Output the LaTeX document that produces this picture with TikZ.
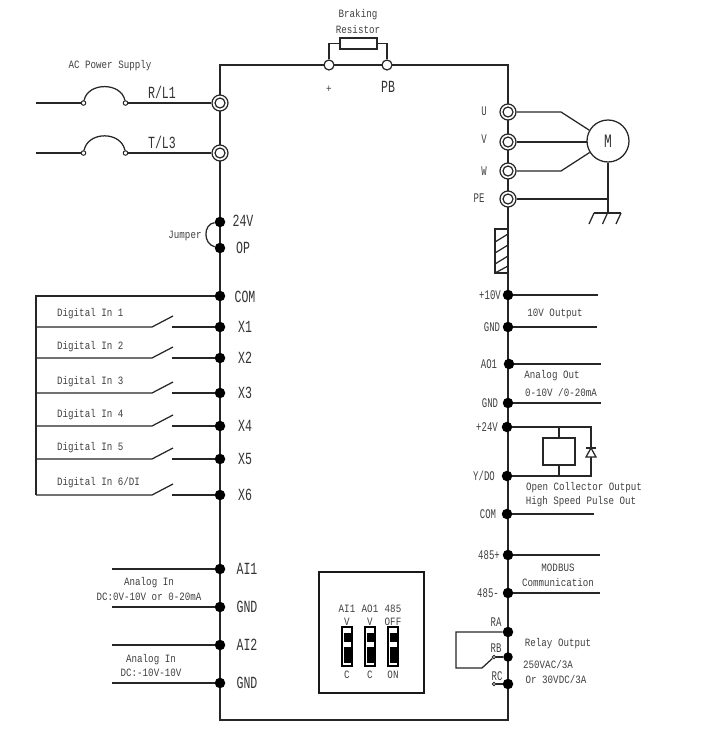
\documentclass[tikz,border=0pt]{standalone}
\usepackage{fontspec}
\setmainfont[FakeStretch=0.82]{Liberation Mono}
\newfontfamily\narrowfam[FakeStretch=0.68]{Liberation Mono}
\begin{document}
\begin{tikzpicture}[x=1pt,y=-1pt,
  wire/.style={line width=1.25pt,color=black!85,line join=miter},
  dot/.style={circle,fill=black,inner sep=0pt,minimum size=10.5pt},
  term/.style={circle,draw=black!85,line width=1.2pt,fill=white,inner sep=0pt,minimum size=16pt,path picture={\draw[black!85,line width=1.2pt] (path picture bounding box.center) circle (5pt);}},
  open/.style={circle,draw=black!85,line width=1.2pt,fill=white,inner sep=0pt,minimum size=10pt},
  tiny/.style={circle,draw=black!85,line width=1pt,fill=white,inner sep=0pt,minimum size=4.5pt},
  lbl/.style={inner sep=0pt,yshift=-1pt,color=black!75,font=\fontsize{11.2}{13}\selectfont},
  lbig/.style={inner sep=0pt,color=black!80,font=\narrowfam\fontsize{17}{19}\selectfont},
  lmid/.style={inner sep=0pt,color=black!75,font=\narrowfam\fontsize{13.2}{15}\selectfont}]
\useasboundingbox (0,0) rectangle (714,739);
\fill[white] (0,0) rectangle (714,739);
% corner coordinates
\coordinate (tl) at (220,65);
\coordinate (tr) at (508,65);
\coordinate (bl) at (220,720);
\coordinate (br) at (508,720);
\coordinate (busT) at (36,296);
\coordinate (busB) at (36,495);
% main frame
\draw[wire] (tl) -- (tr) -- (br) -- (bl) -- cycle;
% braking resistor
\node[open] (pp) at (329,65) {};
\node[open] (pb) at (387,65) {};
\node[draw=black!85,line width=1.25pt,minimum width=37pt,minimum height=11pt,inner sep=0pt] (res) at (358.5,43.5) {};
\draw[wire] (pp) |- (res.west);
\draw[wire] (pb) |- (res.east);
\node[lbl] (t1) at (358,14) {Braking};
\node[lbl] (t2) at (358,28) {Resistor};
\node[lbl] (t3) at (329,88) {+};
\node[lbig] (t4) at (388,87) {PB};
% mains
\node[term] (rl) at (220,103) {};
\node[term] (tl3) at (220,153) {};
\coordinate (rin) at (36,103);
\coordinate (tin) at (36,153);
\node[tiny] (f1a) at (83.5,103) {};
\node[tiny] (f1b) at (125.5,103) {};
\node[tiny] (f2a) at (83.5,153) {};
\node[tiny] (f2b) at (125.5,153) {};
\draw[wire] (rin) -- (f1a);
\draw[wire] (f1b) -- (rl);
\draw[wire] (tin) -- (f2a);
\draw[wire] (f2b) -- (tl3);
\draw[wire] (f1a) .. controls (88,82) and (121,82) .. (f1b);
\draw[wire] (f2a) .. controls (88,131) and (121,131) .. (f2b);
\node[lbl] (ac) at (110,65) {AC Power Supply};
\node[lbig] (n1) at (162,92) {R/L1};
\node[lbig] (n2) at (162,142) {T/L3};
% jumper
\node[dot] (v24) at (220,222) {};
\node[dot] (op) at (220,248) {};
\draw[wire] (v24) .. controls (203,224) and (203,244) .. (op);
\node[lbl] (j) at (185,235) {Jumper};
\node[lbig] (n3) at (243,221) {24V};
\node[lbig] (n4) at (243,248) {OP};
% digital inputs
\node[dot] (com) at (220,296) {};
\node[lbig] (c1) at (245,297) {COM};
\draw[wire] (com) -- (busT) -- (busB);
\foreach \nm/\yy/\tx/\ty in {X1/327/Digital In 1/313,X2/358/Digital In 2/346,X3/393/Digital In 3/381,X4/426/Digital In 4/414,X5/459/Digital In 5/447,X6/495/Digital In 6\slash DI/482}{
  \node[dot] (d\nm) at (220,\yy) {};
  \coordinate (a\nm) at (36,\yy);
  \coordinate (b\nm) at (152,\yy);
  \coordinate (e\nm) at (173,\yy-11);
  \coordinate (s\nm) at (172,\yy);
  \draw[wire] (a\nm) -- (b\nm) -- (e\nm);
  \draw[wire] (s\nm) -- (d\nm);
  \node[lbig] (l\nm) at (245,\yy) {\nm};
  \node[lbl,anchor=west] (t\nm) at (57,\ty) {\tx};
}
% analog in
\foreach \nm/\yy/\lab in {p/569/AI1,q/607/GND,r/645/AI2,s/683/GND}{
  \node[dot] (g\nm) at (220,\yy) {};
  \coordinate (h\nm) at (112,\yy);
  \draw[wire] (h\nm) -- (g\nm);
  \node[lbig] (m\nm) at (247,\yy) {\lab};
}
\node[lbl] (ai1) at (149,582) {Analog In};
\node[lbl] (ai2) at (149,596) {DC:0V-10V or 0-20mA};
\node[lbl] (ai3) at (151,659) {Analog In};
\node[lbl] (ai4) at (151,672) {DC:-10V-10V};
% dip box
\node[draw=black!90,line width=1.25pt,minimum width=105pt,minimum height=121pt,inner sep=0pt] (dip) at (371.5,632.5) {};
\foreach \nm/\xx/\a/\b/\c in {A/347/AI1/V/C,B/370/AO1/V/C,C/393/485/OFF/ON}{
  \node[draw=black,line width=1.1pt,minimum width=10pt,minimum height=39pt,inner sep=0pt] (sw\nm) at (\xx,646.5) {};
  \fill[black] (\xx-3.5,633) rectangle (\xx+3.5,642);
  \fill[black] (\xx-3.5,647) rectangle (\xx+3.5,663);
  \node[lbl] (sa\nm) at (\xx,608) {\a};
  \node[lbl] (sb\nm) at (\xx,621) {\b};
  \node[lbl] (sc\nm) at (\xx,674) {\c};
}
% motor
\node[term] (u) at (508,112) {};
\node[term] (v) at (508,142) {};
\node[term] (w) at (508,171) {};
\node[term] (pe) at (508,199) {};
\node[circle,draw=black!85,line width=1.25pt,minimum size=42pt,inner sep=0pt] (m) at (608,141) {};
\node[lbig,font=\narrowfam\fontsize{19}{21}\selectfont] (mt) at (608,141) {M};
\coordinate (ub) at (561,112);
\coordinate (wb) at (561,171);
\coordinate (vm) at (587,142);
\coordinate (gnd) at (608,213);
\coordinate (pj) at (608,199);
\draw[wire] (u) -- (ub) -- (m.150);
\draw[wire] (v) -- (vm);
\draw[wire] (w) -- (wb) -- (m.212);
\draw[wire] (m.south) -- (gnd);
\draw[wire] (pe) -- (pj);
\draw[wire] (594,213) -- (621,213);
\draw[wire] (594,213) -- (589,224) (607.5,213) -- (602.5,224) (621,213) -- (616,224);
\node[lmid] (lu) at (484,111) {U};
\node[lmid] (lv) at (484,139) {V};
\node[lmid] (lw) at (484,171) {W};
\node[lmid] (lpe) at (479,198) {PE};
% hatched choke
\draw[wire] (508,229) -- (495,229) -- (495,273) -- (508,273);
\draw[wire] (495,242) -- (508,234) (495,253) -- (508,245) (495,264) -- (508,256) (495,273) -- (508,266);
% right side signals
\foreach \nm/\xx/\yy/\xe/\lab/\lx in {ta/508/295/598/+10V/490,tb/508/327/597/GND/492,tc/509/364/601/AO1/489,td/508/403/601/GND/490,te/507/514/594/COM/488,tf/508/555/600/485+/489,tg/508/593/600/485-/488}{
  \node[dot] (\nm) at (\xx,\yy) {};
  \coordinate (\nm x) at (\xe,\yy);
  \draw[wire] (\nm) -- (\nm x);
  \node[lmid] (l\nm) at (\lx,\yy) {\lab};
}
\node[lbl] (o1) at (555,313) {10V Output};
\node[lbl] (o2) at (552,375) {Analog Out};
\node[lbl] (o3) at (561,391) {0-10V /0-20mA};
\node[lbl] (o4) at (584,487) {Open Collector Output};
\node[lbl] (o5) at (581,501) {High Speed Pulse Out};
\node[lbl] (o6) at (558,567) {MODBUS};
\node[lbl] (o7) at (558,581) {Communication};
\node[lbl] (o8) at (558,643) {Relay Output};
\node[lbl] (o9) at (548,663) {250VAC/3A};
\node[lbl] (o10) at (556,678) {Or 30VDC/3A};
% open collector load
\node[dot] (p24) at (507,427) {};
\node[dot] (yd) at (507,476) {};
\node[lmid] (lp24) at (487,427) {+24V};
\node[lmid] (lyd) at (484,476) {Y/DO};
\node[draw=black!85,line width=1.25pt,minimum width=32pt,minimum height=27pt,inner sep=0pt] (coil) at (559,451.5) {};
\coordinate (top) at (591,427);
\coordinate (bot) at (591,476);
\coordinate (ctop) at (559,427);
\coordinate (cbot) at (559,476);
\draw[wire] (p24) -- (top) -- (bot) -- (yd);
\draw[wire] (ctop) -- (coil.north);
\draw[wire] (cbot) -- (coil.south);
\draw[wire,fill=white] (591,448) -- (596,457) -- (586,457) -- cycle;
\draw[wire] (586,448) -- (596,448);
% relay
\node[dot] (ra) at (508,632) {};
\node[dot,minimum size=9.5pt] (rb) at (508,657) {};
\node[dot] (rc) at (508,684) {};
\node[tiny,minimum size=3.5pt] (cb) at (494,657) {};
\node[tiny,minimum size=3.5pt] (cc) at (494,684) {};
\coordinate (l1) at (456,632);
\coordinate (l2) at (456,668);
\coordinate (l3) at (482,668);
\draw[wire] (ra) -- (l1) -- (l2) -- (l3) -- (cb);
\draw[wire] (cb) -- (rb);
\draw[wire] (cc) -- (rc);
\node[lmid] (lra) at (496,622) {RA};
\node[lmid] (lrb) at (496,648) {RB};
\node[lmid] (lrc) at (497,676) {RC};
\end{tikzpicture}
\end{document}
